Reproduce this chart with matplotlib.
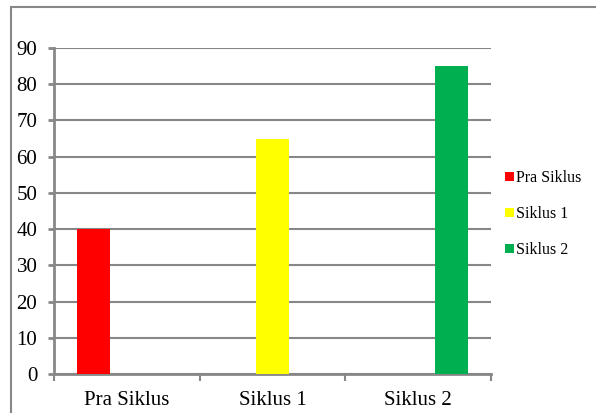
import matplotlib.pyplot as plt
import numpy as np
from matplotlib.patches import Rectangle

# Dados do gráfico
kategori = ["Pra Siklus", "Siklus 1", "Siklus 2"]
seri = ["Pra Siklus", "Siklus 1", "Siklus 2"]
nilai_pra = [40, 0, 0]
nilai_s1 = [0, 65, 0]
nilai_s2 = [0, 0, 85]
warna = ["#FF0000", "#FFFF00", "#00B050"]
y_ticks = [0, 10, 20, 30, 40, 50, 60, 70, 80, 90]

plt.rcParams["font.family"] = ["Liberation Serif", "DejaVu Serif"]
abu = "#878787"

fig = plt.figure(figsize=(5.96, 4.13), dpi=100)
ax = fig.add_axes([0.0906, 0.0944, 0.7332, 0.7894])

# Moldura externa do gráfico (estilo Excel)
fig.patches.append(Rectangle((11 / 596, -0.5), 1.5, 1 - 7 / 413 + 0.5,
                             transform=fig.transFigure, fill=False,
                             edgecolor=abu, linewidth=1.5, clip_on=False))

x = np.arange(len(kategori))
largura = 0.226
for i, (nome, vals) in enumerate(zip(seri, [nilai_pra, nilai_s1, nilai_s2])):
    ax.bar(x + (i - 1) * largura, vals, width=largura, color=warna[i],
           label=nome, zorder=3)

ax.set_xlim(-0.5, 2.5)
ax.set_ylim(0, 90)
ax.set_yticks(y_ticks)
ax.set_xticks(x)
ax.set_xticklabels(kategori)
ax.set_xticks([-0.5, 0.5, 1.5, 2.5], minor=True)

ax.yaxis.grid(True, color=abu, linewidth=1.5, zorder=0)
ax.set_axisbelow(True)

for lado in ["top", "right"]:
    ax.spines[lado].set_visible(False)
for lado in ["left", "bottom"]:
    ax.spines[lado].set_color(abu)
    ax.spines[lado].set_linewidth(2)

ax.tick_params(axis="y", length=4, width=2, color=abu, labelsize=15, pad=8)
ax.tick_params(axis="x", which="major", length=0, labelsize=15, pad=12)
ax.tick_params(axis="x", which="minor", length=5, width=1.5, color=abu,
               direction="out")

leg = ax.legend(loc="center left", bbox_to_anchor=(1.018, 0.49), frameon=False,
                fontsize=11.5, handlelength=0.55, handleheight=0.55,
                handletextpad=0.15, labelspacing=1.25, borderaxespad=0)

fig.savefig("out.png", dpi=100)
